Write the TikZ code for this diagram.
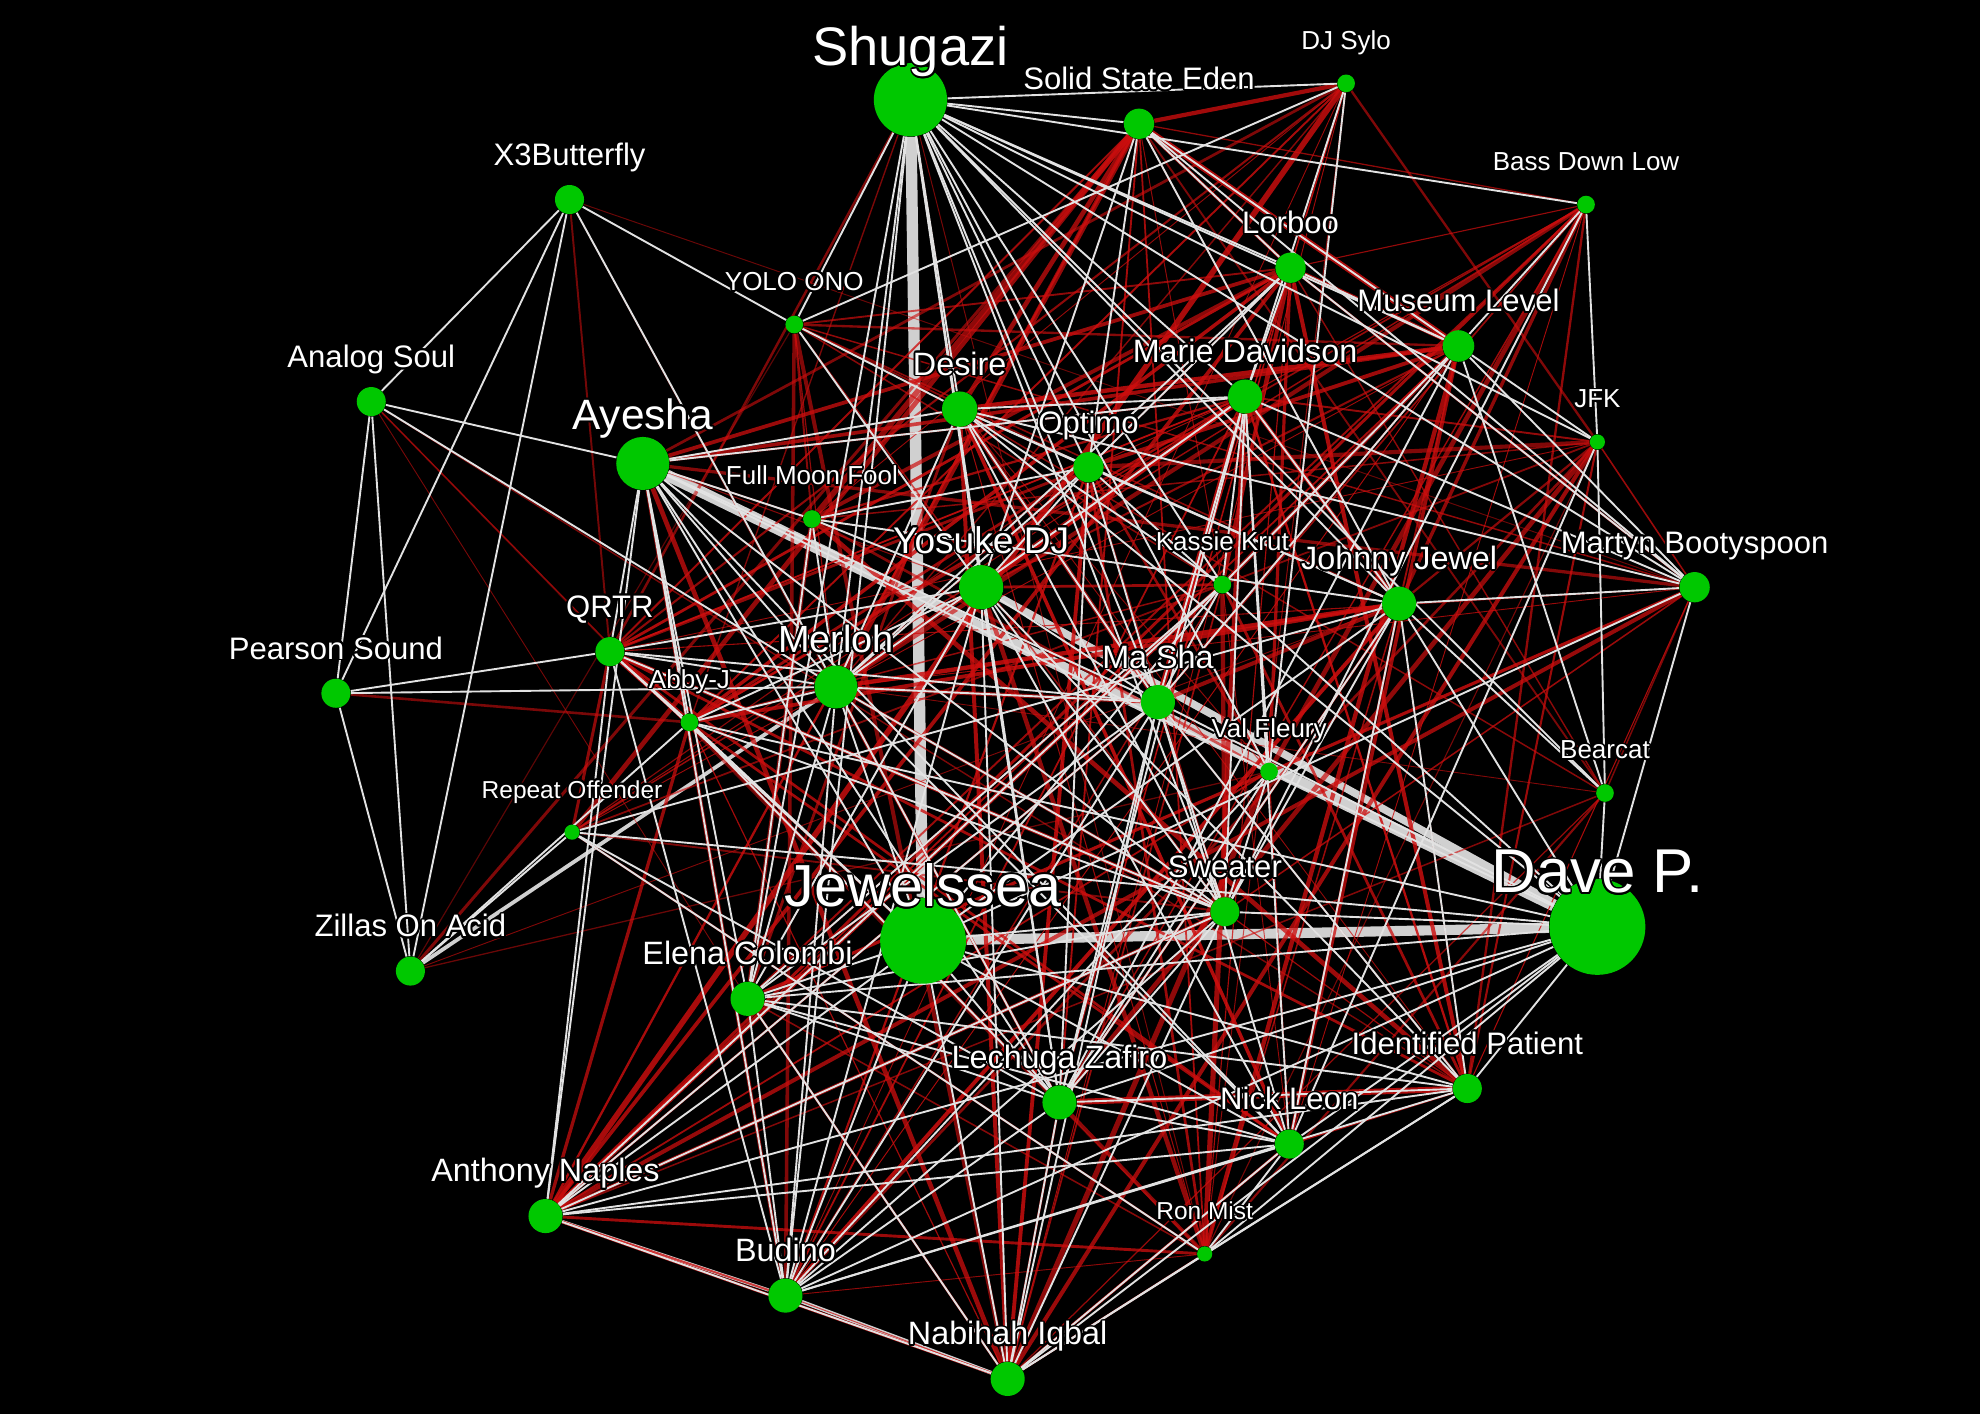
\documentclass[tikz,border=0pt]{standalone}
\usepackage{fontspec}
\setmainfont{Liberation Sans}
\usepackage[copies]{contour}
\contourlength{0.7pt}
\contournumber{16}
\usetikzlibrary{backgrounds}

\definecolor{djgreen}{RGB}{0,200,0}
\definecolor{linkwhite}{RGB}{226,226,226}
\definecolor{linkred}{RGB}{205,14,14}

\tikzset{
  dj/.style={circle, fill=djgreen, inner sep=0pt, minimum size=#1},
  djlabel/.style={text=white, anchor=base, inner sep=0pt, font=\fontsize{#1}{#1}\selectfont},
  whitelink/.style={draw=linkwhite, line width=0.75pt},
  heavylink/.style={draw=linkwhite!92!black, line width=#1},
  redlink/.style={draw=linkred}
}

% 节点: 名字/x/y/直径/字号/文字
\def\djlist{shu/721/79/29/21.5/Shugazi, sse/902/98/12/12.3/Solid State Eden,
  sylo/1066/66/7/10.3/DJ Sylo, bdl/1256/162/7/10.3/Bass Down Low,
  x3b/451/158/11.5/12.3/X3Butterfly, lor/1022/212/12/12.3/Lorboo,
  mus/1155/274/12.5/12.3/Museum Level, yolo/629/257/7/10.3/YOLO ONO,
  ana/294/318/11.5/12.3/Analog Soul, des/760/324/14/12.8/Desire,
  mar/986/314/13.5/12.8/Marie Davidson, jfk/1265/350/6/10.3/JFK,
  aye/509/367/21/16.8/Ayesha, opt/862/370/12/12.3/Optimo,
  fmf/643/411/7/10.3/Full Moon Fool, yos/777/465/17.5/14.7/Yosuke DJ,
  kas/968/463/7/10.3/Kassie Krut, joh/1108/478/13.5/12.8/Johnny Jewel,
  mbs/1342/465/12/12.3/Martyn Bootyspoon, qrtr/483/516/11.5/12.3/QRTR,
  mer/662/544/17/15/Merloh, pea/266/549/11.5/12.3/Pearson Sound,
  abby/546/572/7/10.3/Abby-J, masha/917/556/13.5/12.8/Ma Sha,
  val/1005/611/7/10.3/Val Fleury, bear/1271/628/7/10.3/Bearcat,
  rep/453/659/6/9.7/Repeat Offender, swe/970/722/11.5/12.3/Sweater,
  jew/731/745/34/23.5/Jewelssea, dave/1265/734/38/24.5/Dave P.,
  zil/325/769/11.5/12.3/Zillas On Acid, ele/592/791/13.5/12.8/Elena Colombi,
  lec/839/873/13.5/12.8/Lechuga Zafiro, idp/1162/862/11.5/12.3/Identified Patient,
  nick/1021/906/11.5/12.3/Nick Leon, ant/432/963/13.5/12.8/Anthony Naples,
  ron/954/993/6/9.7/Ron Mist, bud/622/1026/13.5/12.8/Budino,
  nab/798/1092/13.5/12.8/Nabihah Iqbal}

% 红色连线的权重
\def\redlist{sse/0.8, sylo/0.6, bdl/0.55, lor/0.8, mus/0.75, yolo/0.45, des/0.7,
  mar/0.85, jfk/0.45, opt/0.6, fmf/0.55, yos/0.6, kas/0.6, joh/0.85, mbs/0.8,
  qrtr/0.8, mer/0.6, abby/0.75, masha/0.6, val/0.55, bear/0.35, rep/0.5,
  swe/0.55, ele/0.6, lec/0.65, idp/0.85, nick/0.85, ant/0.8, ron/0.55,
  bud/0.7, nab/0.8, aye/0.45, x3b/0.15, ana/0.15, pea/0.15, zil/0.12,
  shu/0.15, jew/0.15}

\begin{document}
\begin{tikzpicture}[x=0.5pt, y=-0.5pt]
    \useasboundingbox (0,0) rectangle (1568,1120);

    % 节点
    \foreach \n/\x/\y/\d/\fs/\t in \djlist {
        \node[dj=\d pt] (\n) at (\x,\y) {};
    }
    % 标签
    \foreach \n/\x/\y/\d/\fs/\t in \djlist {
        \node[djlabel=\fs] (\n-l) at (\x,\y-27) {\contour{black}{\t}};
    }

    \begin{scope}[on background layer]
        \fill[black] (0,0) rectangle (1568,1120);

        % 粗的白色连线
        \foreach \a/\b/\w in {shu/jew/4.5pt, aye/dave/4.5pt, jew/dave/4pt, yos/dave/3pt,
            zil/mer/1.5pt, bud/nab/1.5pt, ant/bud/1.3pt} {
            \draw[heavylink=\w] (\a) -- (\b);
        }

        % 红色连线
        \pgfmathsetseed{2024}
        \foreach \a/\wa [count=\i] in \redlist {
            \foreach \b/\wb [count=\j] in \redlist {
                \ifnum\j>\i
                    \pgfmathsetmacro\u{rnd}
                    \pgfmathtruncatemacro\hit{\u<\wa*\wb ? 1 : 0}
                    \ifnum\hit=1
                        \pgfmathsetmacro\v{rnd}
                        \pgfmathsetmacro\lw{0.35+2.8*\v*\v*sqrt(\wa*\wb)}
                        \pgfmathsetmacro\op{0.3+0.55*sqrt(\wa*\wb)+0.15*rnd}
                        \draw[redlink, line width=\lw pt, draw opacity=\op] (\a) -- (\b);
                    \fi
                \fi
            }
        }

        % 白色连线
        \foreach \a/\b in {x3b/ana, x3b/pea, x3b/zil, x3b/yolo, x3b/mer,
            ana/aye, ana/pea, ana/zil, ana/mer,
            pea/qrtr, pea/mer, pea/zil,
            zil/abby, zil/rep,
            rep/dave, rep/lec, rep/joh,
            yolo/shu, yolo/sylo, yolo/des, yolo/yos,
            shu/sse, shu/sylo, shu/bdl, shu/lor, shu/mus, shu/mbs, shu/jfk, shu/mar,
            shu/opt, shu/kas, shu/joh, shu/masha, shu/val, shu/bear, shu/des, shu/ele,
            shu/bud, shu/lec, shu/swe, shu/yos, shu/mer,
            sse/lor, sse/mus, sse/mbs, sse/opt, sse/yos, sse/joh,
            sylo/val, sylo/mar,
            bdl/mus, bdl/jfk, bdl/swe,
            jfk/bear, jfk/mus, jfk/nick,
            mus/mbs, mus/masha, mus/kas, mus/lec, mus/lor,
            lor/mar, lor/opt, lor/mbs, lor/mer,
            mar/des, mar/kas, mar/masha, mar/joh, mar/swe, mar/val, mar/mer, mar/lec,
            mar/nick, mar/aye, mar/mbs,
            aye/qrtr, aye/abby, aye/mer, aye/ele, aye/bud, aye/ant, aye/jew, aye/lec,
            aye/masha, aye/nick, aye/swe, aye/val, aye/fmf,
            qrtr/ant, qrtr/mer, qrtr/masha, qrtr/yos, qrtr/abby, qrtr/jew, qrtr/swe, qrtr/bud,
            abby/mer, abby/yos, abby/jew, abby/swe, abby/dave, abby/lec,
            fmf/yos, fmf/mer, fmf/ele, fmf/joh, fmf/opt,
            des/opt, des/masha, des/joh, des/kas, des/swe, des/dave, des/mer, des/aye,
            opt/masha, opt/joh, opt/dave, opt/lec, opt/yos,
            yos/ele, yos/lec, yos/nab, yos/bud, yos/masha, yos/swe, yos/nick, yos/idp,
            mer/ele, mer/bud, mer/jew, mer/lec, mer/masha, mer/opt, mer/swe, mer/nick,
            kas/masha, kas/ele, kas/jew, kas/ant,
            joh/dave, joh/bear, joh/idp, joh/nick, joh/swe, joh/jew, joh/lec, joh/mbs,
            mbs/jew, mbs/des, mbs/dave,
            masha/dave, masha/ele, masha/lec, masha/nab, masha/bud, masha/ant, masha/nick,
            masha/idp, masha/swe,
            val/dave, val/lec, val/bud, val/swe,
            bear/dave, bear/mus,
            swe/dave, swe/lec, swe/ele, swe/nab, swe/ant, swe/bud,
            jew/ele, jew/lec, jew/bud, jew/nab, jew/nick, jew/idp, jew/ant, jew/swe,
            dave/ele, dave/lec, dave/nick, dave/idp, dave/ron, dave/bud, dave/nab, dave/ant,
            ele/bud, ele/nab, ele/lec, ele/nick, ele/idp,
            lec/nick, lec/idp, lec/nab, lec/bud,
            idp/ant, idp/bud, idp/nab,
            nick/bud, nick/nab, nick/ron, nick/ant,
            ron/nab, ron/rep, ron/idp,
            ant/nab} {
            \draw[whitelink] (\a) -- (\b);
        }
    \end{scope}
\end{tikzpicture}
\end{document}
